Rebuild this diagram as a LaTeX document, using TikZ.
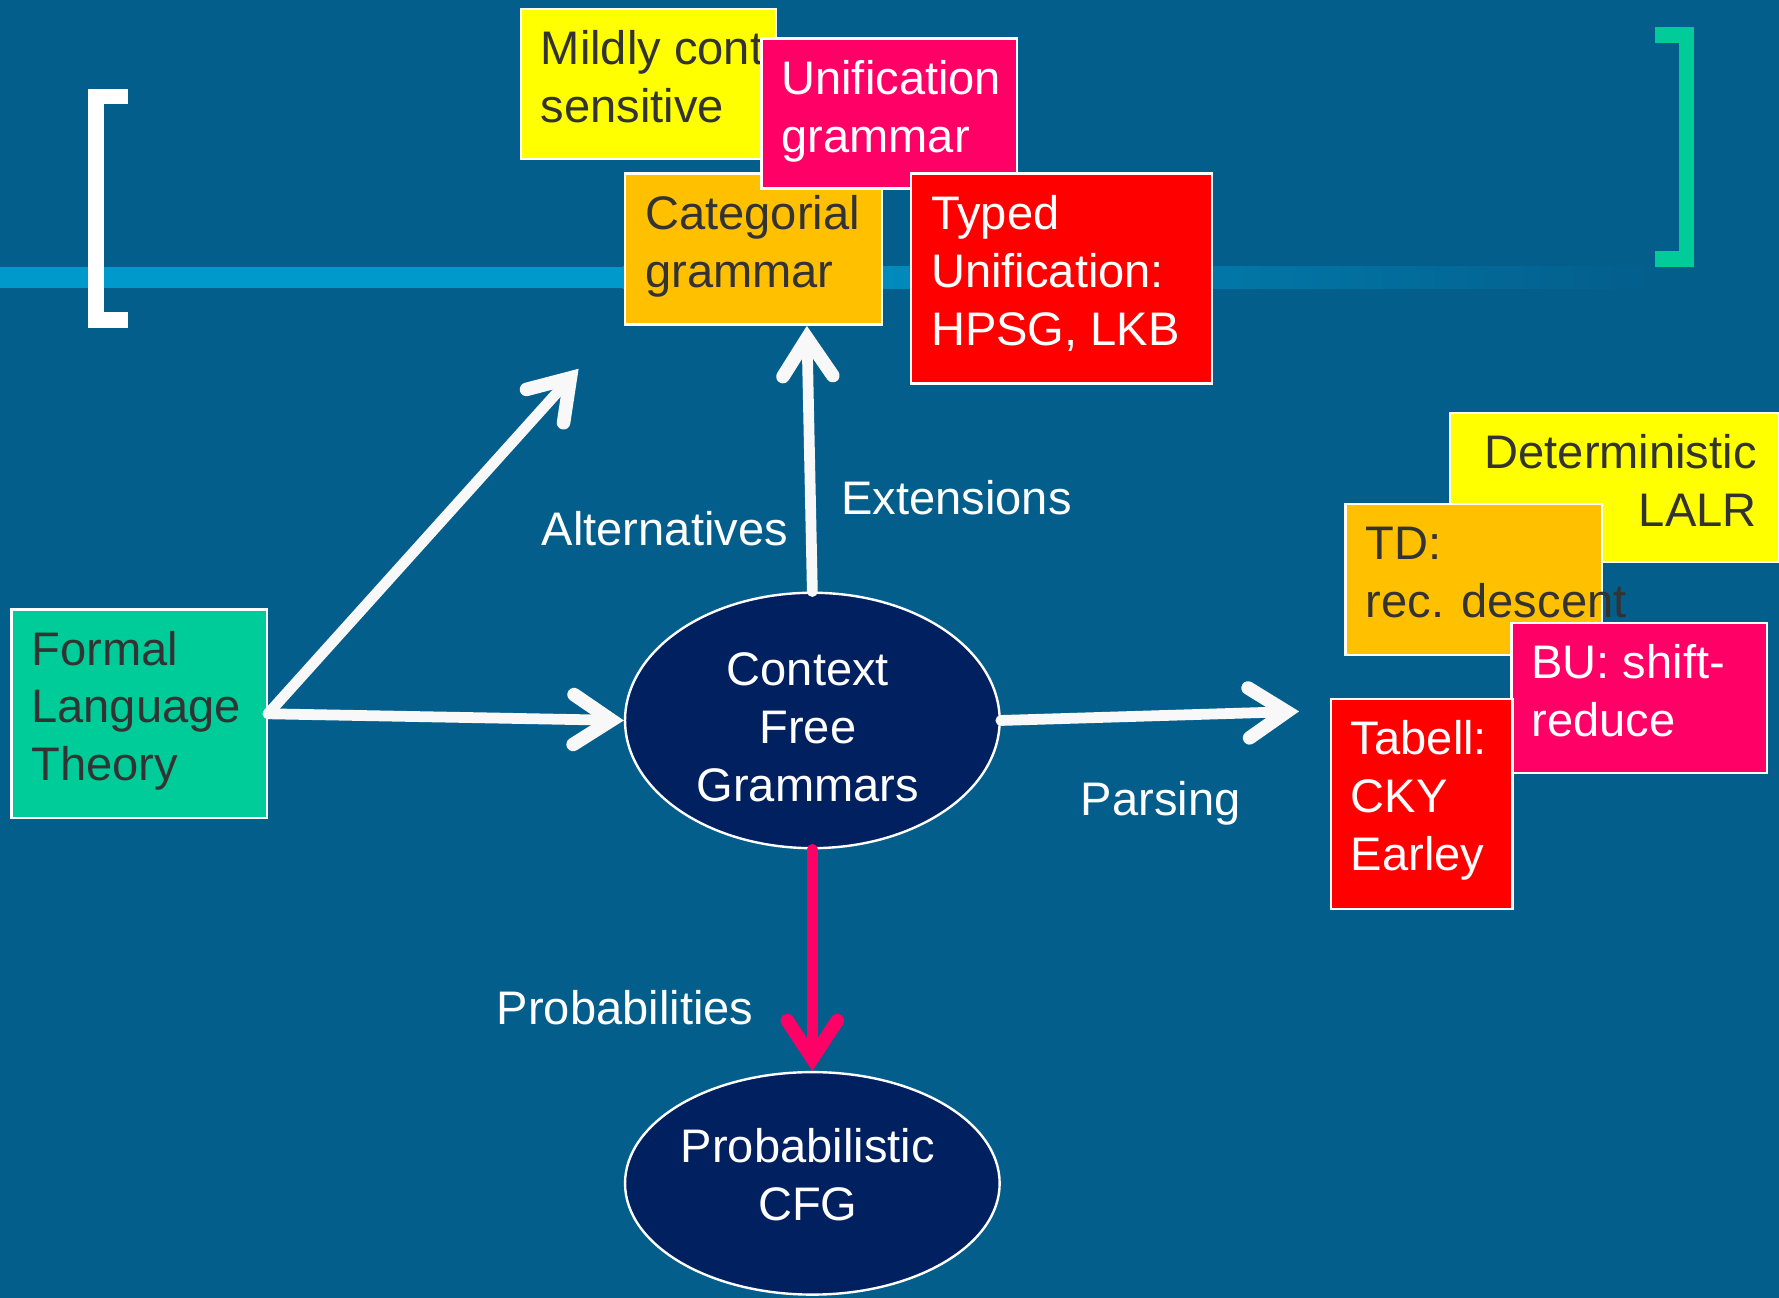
\documentclass[tikz,border=0pt]{standalone}
\usepackage{fontspec}
\setmainfont{Liberation Sans}
\usetikzlibrary{arrows.meta,shapes.geometric}
\definecolor{bg}{RGB}{3,94,140}
\definecolor{bandc}{RGB}{0,153,204}
\definecolor{navy}{RGB}{0,32,96}
\definecolor{tgreen}{RGB}{0,204,153}
\definecolor{tyellow}{RGB}{255,255,0}
\definecolor{torange}{RGB}{255,192,0}
\definecolor{tpink}{RGB}{255,0,102}
\definecolor{tred}{RGB}{255,0,0}
\definecolor{dark}{RGB}{51,51,51}
\definecolor{awhite}{RGB}{248,248,248}
\begin{document}
\begin{tikzpicture}[x=0.01cm,y=-0.01cm,
  every node/.style={font=\fontsize{11.8}{14.5}\selectfont},
  box/.style={draw=white, line width=0.6pt, rectangle, anchor=north west, inner sep=0pt},
  btext/.style={anchor=north west, inner sep=0pt, align=left},
  ell/.style={ellipse, draw=white, line width=0.6pt, fill=navy, inner sep=0pt, minimum width=3.3cm},
  lbl/.style={text=white, inner sep=0pt},
  arr/.style={draw=awhite, line width=2.7pt, line cap=round,
    -{Straight Barb[length=9.5pt,width=12.5pt,line width=3.4pt,line cap=round,line join=miter]}},
  parr/.style={arr, draw=tpink}]
\useasboundingbox (0,0) rectangle (1568,1144);
\fill[bg] (0,0) rectangle (1568,1144);
% band
\fill[bandc] (0,235) rectangle (550,254);
\shade[left color=bandc, right color=bg] (549,235) rectangle (1456,254);
% brackets
\fill[white] (78,78) rectangle (92,289);
\fill[white] (78,78) rectangle (113,92);
\fill[white] (78,275) rectangle (113,289);
\fill[tgreen] (1480,23.5) rectangle (1493,235);
\fill[tgreen] (1459,23.5) rectangle (1493,37.5);
\fill[tgreen] (1459,221) rectangle (1493,235);
% top boxes
\node[box, fill=tyellow, minimum width=2.25cm, minimum height=1.32cm] (mcs) at (458,7) {};
\node[btext, text=dark] (mcst) at (476,7) {\rule{0pt}{0.494cm}Mildly cont\\sensitive};
\node[box, fill=torange, minimum width=2.26cm, minimum height=1.33cm] (cat) at (550,152) {};
\node[btext, text=dark] (catt) at (568,152) {\rule{0pt}{0.494cm}Categorial\\grammar};
\node[box, fill=tpink, minimum width=2.25cm, minimum height=1.32cm] (uni) at (670,33) {};
\node[btext, text=white] (unit) at (688,33) {\rule{0pt}{0.494cm}Unification\\grammar};
\node[box, fill=tred, minimum width=2.65cm, minimum height=1.85cm] (typ) at (802,152) {};
\node[btext, text=white] (typt) at (820,152) {\rule{0pt}{0.494cm}Typed\\Unification:\\HPSG, LKB};
% left box
\node[box, fill=tgreen, minimum width=2.25cm, minimum height=1.84cm] (flt) at (9,536) {};
\node[btext, text=dark] (fltt) at (27,536) {\rule{0pt}{0.494cm}Formal\\Language\\Theory};
% right boxes
\node[box, fill=tyellow, minimum width=2.9cm, minimum height=1.31cm] (det) at (1277,363) {};
\node[anchor=north east, inner sep=0pt, align=right, text=dark] (dett) at (1549,363) {\rule{0pt}{0.494cm}Deterministic\\LALR};
\node[box, fill=torange, minimum width=2.26cm, minimum height=1.33cm] (td) at (1185,443) {};
\node[btext, text=dark] (tdt) at (1203,443) {\rule{0pt}{0.494cm}TD:\\rec. descent};
\node[box, fill=tpink, minimum width=2.25cm, minimum height=1.32cm] (bu) at (1331,548) {};
\node[btext, text=white] (but) at (1349,548) {\rule{0pt}{0.494cm}BU: shift-\\reduce};
\node[box, fill=tred, minimum width=1.6cm, minimum height=1.85cm] (tab) at (1172,615) {};
\node[btext, text=white] (tabt) at (1190,615) {\rule{0pt}{0.494cm}Tabell:\\CKY\\Earley};
% ellipses
\node[ell, minimum height=2.25cm] (cfg) at (716,635) {};
\node[lbl, align=center] (cfgt) at (712,641) {Context\\Free\\Grammars};
\node[ell, minimum height=1.96cm] (pcfg) at (716,1043) {};
\node[lbl, align=center] (pcfgt) at (712,1035) {Probabilistic\\CFG};
% connectors
\coordinate (altend) at (510,325);
\coordinate (parsend) at (1145,627);
\draw[arr] (flt.east) -- (altend);
\draw[arr] (flt.east) -- (cfg.west);
\draw[arr] (cfg.north) -- ([xshift=0.47cm]cat.south);
\draw[arr] (cfg.east) -- (parsend);
\draw[parr] (cfg.south) -- (pcfg.north);
% labels
\node[lbl] (alt) at (586,466) {Alternatives};
\node[lbl] (ext) at (843,439) {Extensions};
\node[lbl] (par) at (1023,708) {Parsing};
\node[lbl] (prob) at (551,888) {Probabilities};
\end{tikzpicture}
\end{document}
